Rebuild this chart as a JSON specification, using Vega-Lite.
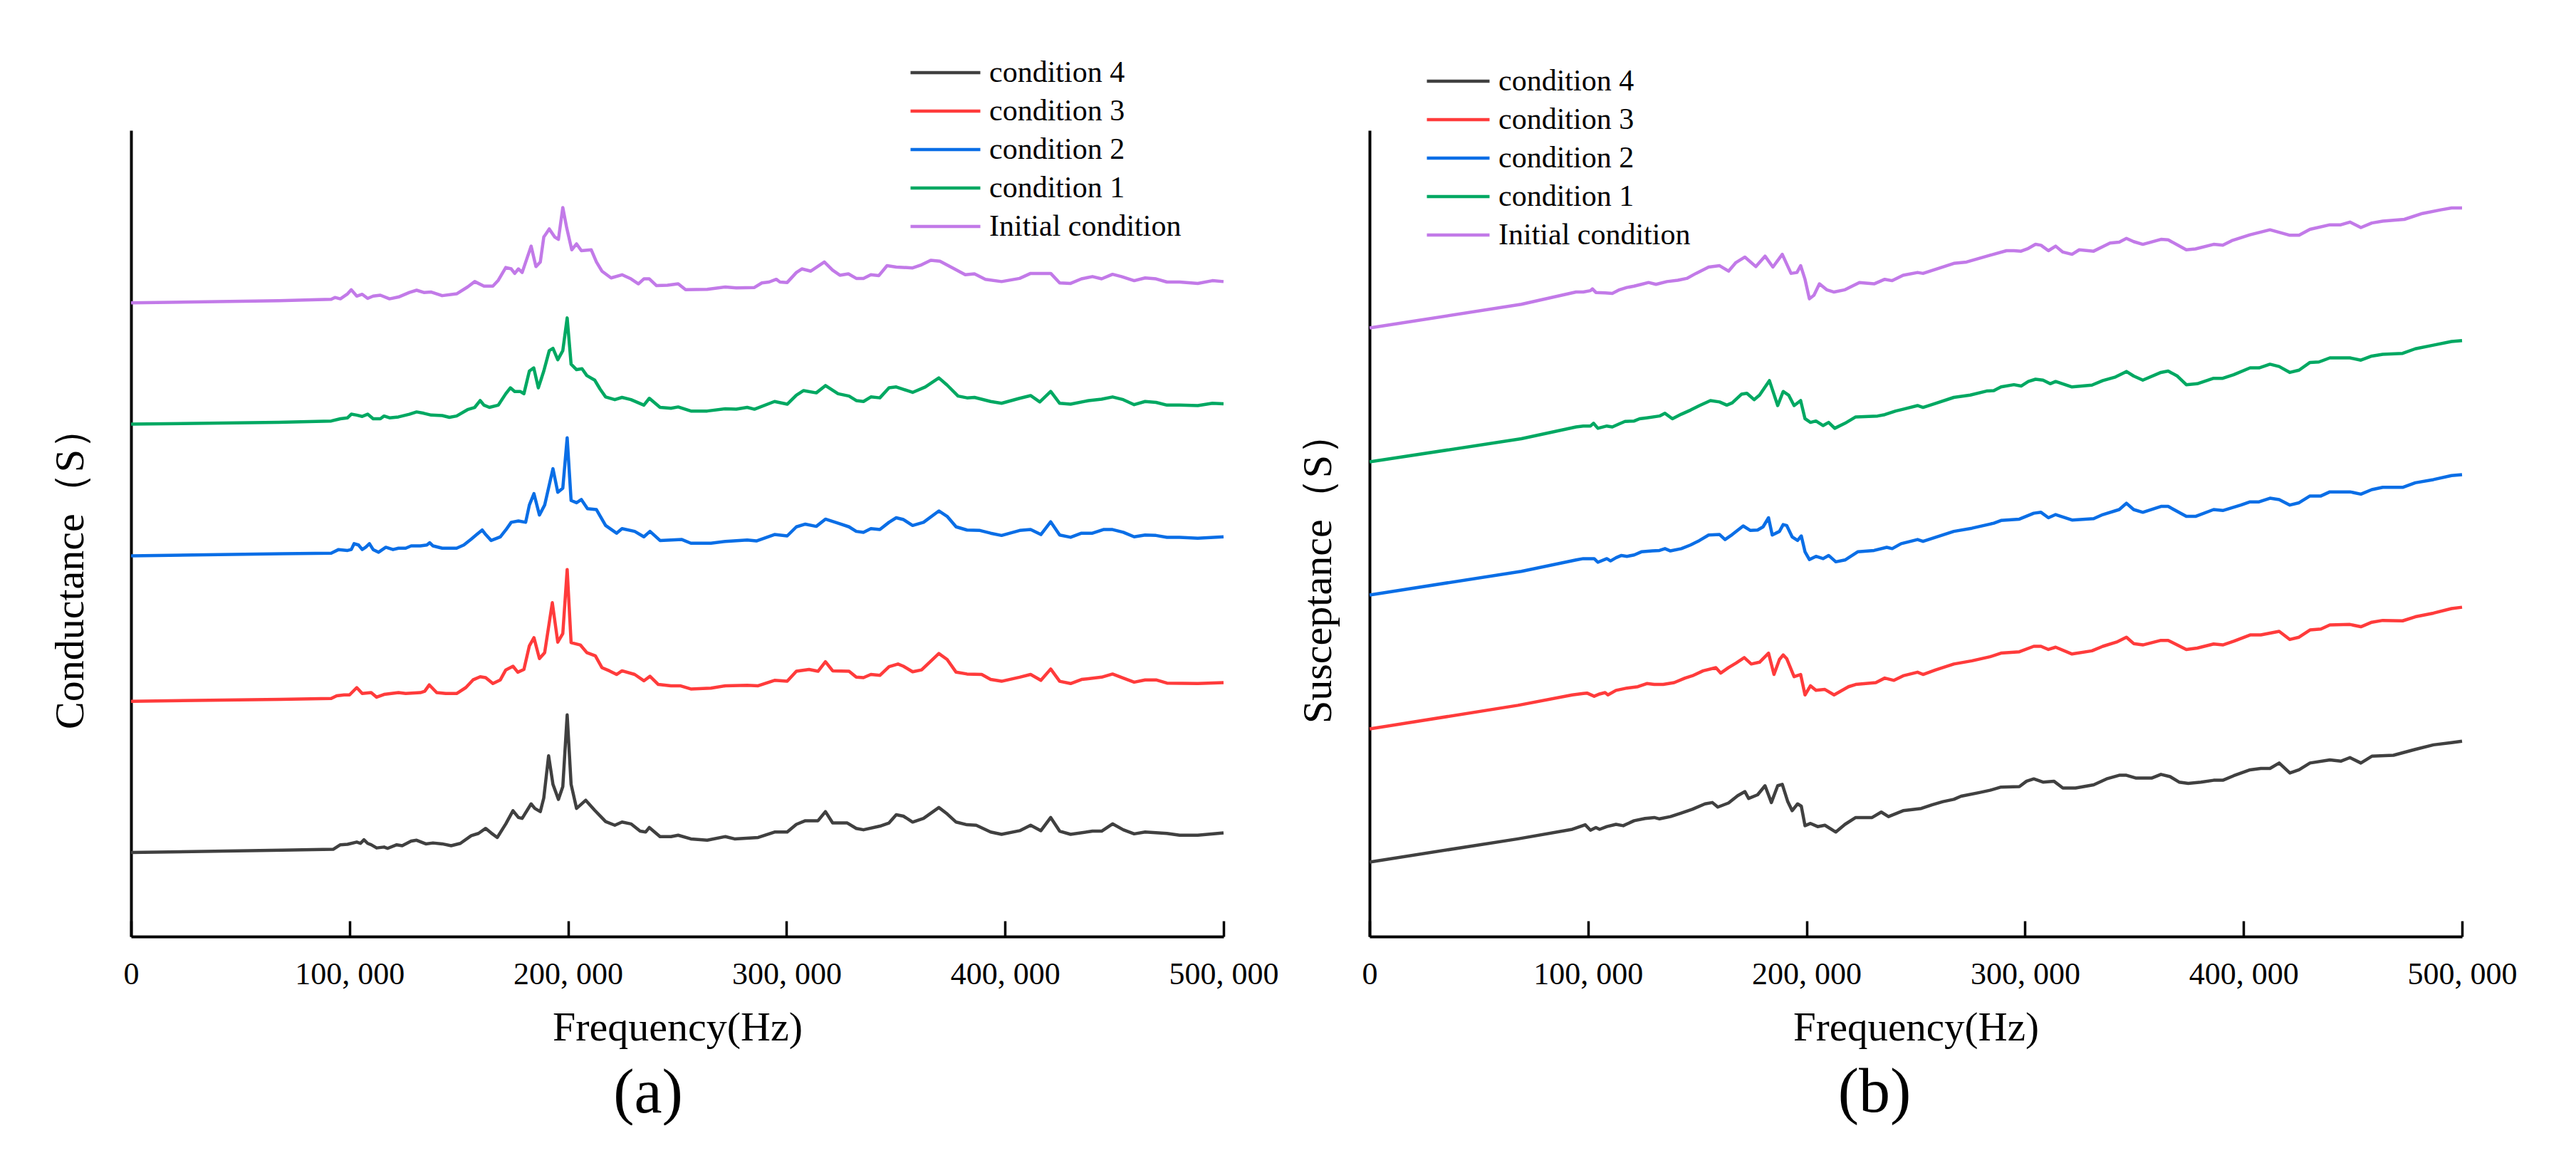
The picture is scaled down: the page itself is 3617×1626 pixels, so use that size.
{
  "$schema": "https://vega.github.io/schema/vega-lite/v6.json",
  "background": "white",
  "padding": {"left": 70, "top": 77, "right": 0, "bottom": 0},
  "datasets": {
    "G": [
      {"s":"Initial condition","f":0,"v":1395},{"s":"Initial condition","f":67500,"v":1400},{"s":"Initial condition","f":91600,"v":1403},{"s":"Initial condition","f":93300,"v":1407},{"s":"Initial condition","f":95800,"v":1404},{"s":"Initial condition","f":99100,"v":1415},{"s":"Initial condition","f":100800,"v":1424},{"s":"Initial condition","f":103300,"v":1410},{"s":"Initial condition","f":105800,"v":1414},{"s":"Initial condition","f":108300,"v":1405},{"s":"Initial condition","f":110800,"v":1410},{"s":"Initial condition","f":114100,"v":1412},{"s":"Initial condition","f":118300,"v":1404},{"s":"Initial condition","f":122400,"v":1408},{"s":"Initial condition","f":127400,"v":1418},{"s":"Initial condition","f":130700,"v":1423},{"s":"Initial condition","f":134000,"v":1418},{"s":"Initial condition","f":137400,"v":1419},{"s":"Initial condition","f":142400,"v":1411},{"s":"Initial condition","f":149000,"v":1415},{"s":"Initial condition","f":154000,"v":1430},{"s":"Initial condition","f":157300,"v":1442},{"s":"Initial condition","f":161500,"v":1432},{"s":"Initial condition","f":165600,"v":1432},{"s":"Initial condition","f":168100,"v":1445},{"s":"Initial condition","f":171500,"v":1473},{"s":"Initial condition","f":174000,"v":1470},{"s":"Initial condition","f":175600,"v":1460},{"s":"Initial condition","f":177300,"v":1470},{"s":"Initial condition","f":179000,"v":1462},{"s":"Initial condition","f":183100,"v":1520},{"s":"Initial condition","f":185300,"v":1475},{"s":"Initial condition","f":187300,"v":1485},{"s":"Initial condition","f":188900,"v":1540},{"s":"Initial condition","f":191400,"v":1558},{"s":"Initial condition","f":193900,"v":1540},{"s":"Initial condition","f":195600,"v":1535},{"s":"Initial condition","f":197600,"v":1605},{"s":"Initial condition","f":199400,"v":1560},{"s":"Initial condition","f":201700,"v":1512},{"s":"Initial condition","f":203900,"v":1525},{"s":"Initial condition","f":206100,"v":1510},{"s":"Initial condition","f":210600,"v":1512},{"s":"Initial condition","f":213000,"v":1485},{"s":"Initial condition","f":215500,"v":1465},{"s":"Initial condition","f":219700,"v":1450},{"s":"Initial condition","f":224700,"v":1457},{"s":"Initial condition","f":228800,"v":1448},{"s":"Initial condition","f":232200,"v":1437},{"s":"Initial condition","f":234700,"v":1448},{"s":"Initial condition","f":237200,"v":1448},{"s":"Initial condition","f":240500,"v":1433},{"s":"Initial condition","f":245500,"v":1434},{"s":"Initial condition","f":250400,"v":1437},{"s":"Initial condition","f":253800,"v":1424},{"s":"Initial condition","f":263700,"v":1425},{"s":"Initial condition","f":272000,"v":1430},{"s":"Initial condition","f":277000,"v":1428},{"s":"Initial condition","f":285300,"v":1429},{"s":"Initial condition","f":288700,"v":1439},{"s":"Initial condition","f":292000,"v":1441},{"s":"Initial condition","f":295300,"v":1447},{"s":"Initial condition","f":297000,"v":1441},{"s":"Initial condition","f":300300,"v":1440},{"s":"Initial condition","f":304500,"v":1462},{"s":"Initial condition","f":307000,"v":1470},{"s":"Initial condition","f":311100,"v":1465},{"s":"Initial condition","f":317300,"v":1485},{"s":"Initial condition","f":321100,"v":1467},{"s":"Initial condition","f":324400,"v":1456},{"s":"Initial condition","f":328300,"v":1459},{"s":"Initial condition","f":331900,"v":1449},{"s":"Initial condition","f":335200,"v":1449},{"s":"Initial condition","f":338600,"v":1457},{"s":"Initial condition","f":342200,"v":1455},{"s":"Initial condition","f":346000,"v":1477},{"s":"Initial condition","f":350200,"v":1474},{"s":"Initial condition","f":357700,"v":1472},{"s":"Initial condition","f":361800,"v":1479},{"s":"Initial condition","f":366000,"v":1489},{"s":"Initial condition","f":370200,"v":1487},{"s":"Initial condition","f":376800,"v":1470},{"s":"Initial condition","f":381800,"v":1457},{"s":"Initial condition","f":386000,"v":1459},{"s":"Initial condition","f":391000,"v":1447},{"s":"Initial condition","f":398400,"v":1442},{"s":"Initial condition","f":406700,"v":1449},{"s":"Initial condition","f":411700,"v":1460},{"s":"Initial condition","f":420900,"v":1460},{"s":"Initial condition","f":425000,"v":1439},{"s":"Initial condition","f":430000,"v":1438},{"s":"Initial condition","f":435000,"v":1448},{"s":"Initial condition","f":440000,"v":1453},{"s":"Initial condition","f":444200,"v":1448},{"s":"Initial condition","f":449200,"v":1458},{"s":"Initial condition","f":453300,"v":1453},{"s":"Initial condition","f":459100,"v":1444},{"s":"Initial condition","f":464100,"v":1450},{"s":"Initial condition","f":469100,"v":1448},{"s":"Initial condition","f":474100,"v":1441},{"s":"Initial condition","f":479900,"v":1441},{"s":"Initial condition","f":488200,"v":1438},{"s":"Initial condition","f":494900,"v":1444},{"s":"Initial condition","f":500000,"v":1442},
      {"s":"condition 1","f":0,"v":1128},{"s":"condition 1","f":67500,"v":1132},{"s":"condition 1","f":91600,"v":1135},{"s":"condition 1","f":95800,"v":1140},{"s":"condition 1","f":99100,"v":1142},{"s":"condition 1","f":100800,"v":1150},{"s":"condition 1","f":103300,"v":1148},{"s":"condition 1","f":105800,"v":1145},{"s":"condition 1","f":108300,"v":1150},{"s":"condition 1","f":110800,"v":1140},{"s":"condition 1","f":114100,"v":1140},{"s":"condition 1","f":115800,"v":1146},{"s":"condition 1","f":118300,"v":1142},{"s":"condition 1","f":122400,"v":1144},{"s":"condition 1","f":127400,"v":1150},{"s":"condition 1","f":130700,"v":1155},{"s":"condition 1","f":134000,"v":1152},{"s":"condition 1","f":137400,"v":1148},{"s":"condition 1","f":142400,"v":1147},{"s":"condition 1","f":145700,"v":1143},{"s":"condition 1","f":149000,"v":1146},{"s":"condition 1","f":154000,"v":1160},{"s":"condition 1","f":157300,"v":1165},{"s":"condition 1","f":159800,"v":1180},{"s":"condition 1","f":161500,"v":1170},{"s":"condition 1","f":164000,"v":1165},{"s":"condition 1","f":168100,"v":1170},{"s":"condition 1","f":171500,"v":1195},{"s":"condition 1","f":173600,"v":1208},{"s":"condition 1","f":175600,"v":1200},{"s":"condition 1","f":178100,"v":1200},{"s":"condition 1","f":179800,"v":1195},{"s":"condition 1","f":182300,"v":1245},{"s":"condition 1","f":184300,"v":1252},{"s":"condition 1","f":186400,"v":1208},{"s":"condition 1","f":188900,"v":1245},{"s":"condition 1","f":191400,"v":1290},{"s":"condition 1","f":193100,"v":1295},{"s":"condition 1","f":195300,"v":1270},{"s":"condition 1","f":197600,"v":1290},{"s":"condition 1","f":199600,"v":1362},{"s":"condition 1","f":201400,"v":1260},{"s":"condition 1","f":203900,"v":1248},{"s":"condition 1","f":206400,"v":1250},{"s":"condition 1","f":208600,"v":1235},{"s":"condition 1","f":212200,"v":1225},{"s":"condition 1","f":214700,"v":1205},{"s":"condition 1","f":217200,"v":1188},{"s":"condition 1","f":221400,"v":1182},{"s":"condition 1","f":224700,"v":1187},{"s":"condition 1","f":228800,"v":1182},{"s":"condition 1","f":234700,"v":1170},{"s":"condition 1","f":237200,"v":1185},{"s":"condition 1","f":242100,"v":1165},{"s":"condition 1","f":247100,"v":1163},{"s":"condition 1","f":250400,"v":1166},{"s":"condition 1","f":256200,"v":1157},{"s":"condition 1","f":263700,"v":1157},{"s":"condition 1","f":272000,"v":1162},{"s":"condition 1","f":277000,"v":1161},{"s":"condition 1","f":282000,"v":1165},{"s":"condition 1","f":285300,"v":1161},{"s":"condition 1","f":294500,"v":1178},{"s":"condition 1","f":300300,"v":1172},{"s":"condition 1","f":304500,"v":1192},{"s":"condition 1","f":307800,"v":1202},{"s":"condition 1","f":313600,"v":1197},{"s":"condition 1","f":317800,"v":1213},{"s":"condition 1","f":323600,"v":1195},{"s":"condition 1","f":328600,"v":1190},{"s":"condition 1","f":331900,"v":1180},{"s":"condition 1","f":335200,"v":1178},{"s":"condition 1","f":338600,"v":1188},{"s":"condition 1","f":342700,"v":1186},{"s":"condition 1","f":346900,"v":1208},{"s":"condition 1","f":350200,"v":1210},{"s":"condition 1","f":357700,"v":1198},{"s":"condition 1","f":363500,"v":1210},{"s":"condition 1","f":369700,"v":1230},{"s":"condition 1","f":373500,"v":1214},{"s":"condition 1","f":378500,"v":1190},{"s":"condition 1","f":382600,"v":1186},{"s":"condition 1","f":386000,"v":1187},{"s":"condition 1","f":393400,"v":1178},{"s":"condition 1","f":398400,"v":1174},{"s":"condition 1","f":406700,"v":1185},{"s":"condition 1","f":411700,"v":1191},{"s":"condition 1","f":415900,"v":1177},{"s":"condition 1","f":420900,"v":1200},{"s":"condition 1","f":425000,"v":1174},{"s":"condition 1","f":430000,"v":1172},{"s":"condition 1","f":438300,"v":1180},{"s":"condition 1","f":444200,"v":1183},{"s":"condition 1","f":449200,"v":1188},{"s":"condition 1","f":454100,"v":1182},{"s":"condition 1","f":459100,"v":1171},{"s":"condition 1","f":464100,"v":1178},{"s":"condition 1","f":469100,"v":1176},{"s":"condition 1","f":474100,"v":1170},{"s":"condition 1","f":479900,"v":1170},{"s":"condition 1","f":488200,"v":1169},{"s":"condition 1","f":494900,"v":1174},{"s":"condition 1","f":500000,"v":1173},
      {"s":"condition 2","f":0,"v":838},{"s":"condition 2","f":69200,"v":843},{"s":"condition 2","f":91600,"v":844},{"s":"condition 2","f":95000,"v":852},{"s":"condition 2","f":99100,"v":850},{"s":"condition 2","f":100800,"v":852},{"s":"condition 2","f":102100,"v":865},{"s":"condition 2","f":104100,"v":862},{"s":"condition 2","f":105800,"v":852},{"s":"condition 2","f":107400,"v":857},{"s":"condition 2","f":109100,"v":865},{"s":"condition 2","f":110800,"v":852},{"s":"condition 2","f":113300,"v":846},{"s":"condition 2","f":116600,"v":857},{"s":"condition 2","f":119900,"v":852},{"s":"condition 2","f":122400,"v":855},{"s":"condition 2","f":125700,"v":855},{"s":"condition 2","f":128200,"v":860},{"s":"condition 2","f":132400,"v":860},{"s":"condition 2","f":135400,"v":862},{"s":"condition 2","f":136700,"v":867},{"s":"condition 2","f":138200,"v":860},{"s":"condition 2","f":142400,"v":855},{"s":"condition 2","f":149000,"v":855},{"s":"condition 2","f":152300,"v":862},{"s":"condition 2","f":155700,"v":875},{"s":"condition 2","f":158200,"v":885},{"s":"condition 2","f":160700,"v":895},{"s":"condition 2","f":162300,"v":885},{"s":"condition 2","f":164800,"v":872},{"s":"condition 2","f":169000,"v":880},{"s":"condition 2","f":171500,"v":895},{"s":"condition 2","f":174000,"v":912},{"s":"condition 2","f":177300,"v":915},{"s":"condition 2","f":180600,"v":912},{"s":"condition 2","f":182300,"v":950},{"s":"condition 2","f":184400,"v":975},{"s":"condition 2","f":186900,"v":928},{"s":"condition 2","f":189300,"v":950},{"s":"condition 2","f":193100,"v":1030},{"s":"condition 2","f":195300,"v":978},{"s":"condition 2","f":197600,"v":987},{"s":"condition 2","f":199600,"v":1098},{"s":"condition 2","f":201400,"v":960},{"s":"condition 2","f":203900,"v":955},{"s":"condition 2","f":206100,"v":962},{"s":"condition 2","f":208900,"v":942},{"s":"condition 2","f":213000,"v":940},{"s":"condition 2","f":217200,"v":905},{"s":"condition 2","f":222200,"v":888},{"s":"condition 2","f":224700,"v":898},{"s":"condition 2","f":230500,"v":892},{"s":"condition 2","f":234700,"v":880},{"s":"condition 2","f":237500,"v":892},{"s":"condition 2","f":242100,"v":872},{"s":"condition 2","f":247100,"v":873},{"s":"condition 2","f":252100,"v":874},{"s":"condition 2","f":256200,"v":866},{"s":"condition 2","f":265400,"v":866},{"s":"condition 2","f":272000,"v":870},{"s":"condition 2","f":282000,"v":873},{"s":"condition 2","f":286200,"v":871},{"s":"condition 2","f":294500,"v":885},{"s":"condition 2","f":300300,"v":882},{"s":"condition 2","f":304500,"v":902},{"s":"condition 2","f":308600,"v":908},{"s":"condition 2","f":313600,"v":903},{"s":"condition 2","f":317800,"v":919},{"s":"condition 2","f":323600,"v":910},{"s":"condition 2","f":328600,"v":902},{"s":"condition 2","f":331900,"v":892},{"s":"condition 2","f":335200,"v":890},{"s":"condition 2","f":338600,"v":898},{"s":"condition 2","f":342700,"v":896},{"s":"condition 2","f":346900,"v":912},{"s":"condition 2","f":350200,"v":922},{"s":"condition 2","f":353500,"v":918},{"s":"condition 2","f":357700,"v":905},{"s":"condition 2","f":362700,"v":912},{"s":"condition 2","f":369700,"v":937},{"s":"condition 2","f":373500,"v":925},{"s":"condition 2","f":377600,"v":902},{"s":"condition 2","f":382600,"v":895},{"s":"condition 2","f":388500,"v":894},{"s":"condition 2","f":393400,"v":888},{"s":"condition 2","f":398400,"v":883},{"s":"condition 2","f":406700,"v":894},{"s":"condition 2","f":411700,"v":896},{"s":"condition 2","f":416400,"v":885},{"s":"condition 2","f":420900,"v":913},{"s":"condition 2","f":425000,"v":884},{"s":"condition 2","f":430000,"v":879},{"s":"condition 2","f":435000,"v":888},{"s":"condition 2","f":440000,"v":888},{"s":"condition 2","f":445000,"v":896},{"s":"condition 2","f":449200,"v":896},{"s":"condition 2","f":454100,"v":890},{"s":"condition 2","f":459100,"v":880},{"s":"condition 2","f":464100,"v":884},{"s":"condition 2","f":469100,"v":883},{"s":"condition 2","f":474100,"v":879},{"s":"condition 2","f":479900,"v":879},{"s":"condition 2","f":488200,"v":877},{"s":"condition 2","f":500000,"v":880},
      {"s":"condition 3","f":0,"v":518},{"s":"condition 3","f":68400,"v":522},{"s":"condition 3","f":91600,"v":524},{"s":"condition 3","f":94100,"v":530},{"s":"condition 3","f":97500,"v":532},{"s":"condition 3","f":100000,"v":532},{"s":"condition 3","f":103300,"v":548},{"s":"condition 3","f":105800,"v":535},{"s":"condition 3","f":109900,"v":537},{"s":"condition 3","f":112400,"v":527},{"s":"condition 3","f":115800,"v":533},{"s":"condition 3","f":122400,"v":537},{"s":"condition 3","f":125700,"v":535},{"s":"condition 3","f":132400,"v":537},{"s":"condition 3","f":134400,"v":540},{"s":"condition 3","f":136500,"v":554},{"s":"condition 3","f":139900,"v":537},{"s":"condition 3","f":144000,"v":535},{"s":"condition 3","f":149000,"v":535},{"s":"condition 3","f":153200,"v":548},{"s":"condition 3","f":156500,"v":565},{"s":"condition 3","f":159800,"v":572},{"s":"condition 3","f":162300,"v":570},{"s":"condition 3","f":165600,"v":557},{"s":"condition 3","f":169000,"v":565},{"s":"condition 3","f":171500,"v":587},{"s":"condition 3","f":174800,"v":595},{"s":"condition 3","f":177000,"v":582},{"s":"condition 3","f":179800,"v":588},{"s":"condition 3","f":182300,"v":640},{"s":"condition 3","f":184400,"v":658},{"s":"condition 3","f":186900,"v":612},{"s":"condition 3","f":189300,"v":625},{"s":"condition 3","f":192800,"v":735},{"s":"condition 3","f":195300,"v":648},{"s":"condition 3","f":197600,"v":667},{"s":"condition 3","f":199600,"v":808},{"s":"condition 3","f":201400,"v":647},{"s":"condition 3","f":205600,"v":642},{"s":"condition 3","f":208600,"v":625},{"s":"condition 3","f":212500,"v":618},{"s":"condition 3","f":215500,"v":592},{"s":"condition 3","f":218900,"v":585},{"s":"condition 3","f":222200,"v":577},{"s":"condition 3","f":224700,"v":585},{"s":"condition 3","f":230500,"v":577},{"s":"condition 3","f":234700,"v":563},{"s":"condition 3","f":237500,"v":573},{"s":"condition 3","f":241300,"v":555},{"s":"condition 3","f":247100,"v":552},{"s":"condition 3","f":251300,"v":552},{"s":"condition 3","f":256200,"v":545},{"s":"condition 3","f":265400,"v":547},{"s":"condition 3","f":272000,"v":552},{"s":"condition 3","f":282000,"v":553},{"s":"condition 3","f":287000,"v":552},{"s":"condition 3","f":294500,"v":564},{"s":"condition 3","f":300300,"v":562},{"s":"condition 3","f":304500,"v":584},{"s":"condition 3","f":310300,"v":588},{"s":"condition 3","f":314400,"v":584},{"s":"condition 3","f":317800,"v":605},{"s":"condition 3","f":321100,"v":585},{"s":"condition 3","f":328600,"v":584},{"s":"condition 3","f":331900,"v":571},{"s":"condition 3","f":335200,"v":570},{"s":"condition 3","f":338600,"v":577},{"s":"condition 3","f":342700,"v":575},{"s":"condition 3","f":346900,"v":594},{"s":"condition 3","f":351000,"v":600},{"s":"condition 3","f":353500,"v":595},{"s":"condition 3","f":357700,"v":583},{"s":"condition 3","f":361800,"v":587},{"s":"condition 3","f":369700,"v":623},{"s":"condition 3","f":373500,"v":610},{"s":"condition 3","f":377600,"v":582},{"s":"condition 3","f":382600,"v":578},{"s":"condition 3","f":389300,"v":577},{"s":"condition 3","f":393400,"v":566},{"s":"condition 3","f":398400,"v":562},{"s":"condition 3","f":406700,"v":571},{"s":"condition 3","f":411700,"v":577},{"s":"condition 3","f":416400,"v":564},{"s":"condition 3","f":420900,"v":589},{"s":"condition 3","f":425000,"v":562},{"s":"condition 3","f":430000,"v":557},{"s":"condition 3","f":435000,"v":566},{"s":"condition 3","f":444200,"v":571},{"s":"condition 3","f":449200,"v":578},{"s":"condition 3","f":454100,"v":569},{"s":"condition 3","f":459100,"v":560},{"s":"condition 3","f":464100,"v":565},{"s":"condition 3","f":469100,"v":565},{"s":"condition 3","f":474100,"v":558},{"s":"condition 3","f":488200,"v":557},{"s":"condition 3","f":500000,"v":559},
      {"s":"condition 4","f":0,"v":185},{"s":"condition 4","f":69200,"v":190},{"s":"condition 4","f":92500,"v":192},{"s":"condition 4","f":95800,"v":202},{"s":"condition 4","f":99100,"v":203},{"s":"condition 4","f":103300,"v":208},{"s":"condition 4","f":105000,"v":205},{"s":"condition 4","f":106600,"v":213},{"s":"condition 4","f":108300,"v":205},{"s":"condition 4","f":109900,"v":202},{"s":"condition 4","f":112400,"v":195},{"s":"condition 4","f":115800,"v":197},{"s":"condition 4","f":117400,"v":194},{"s":"condition 4","f":121600,"v":202},{"s":"condition 4","f":124100,"v":200},{"s":"condition 4","f":128200,"v":210},{"s":"condition 4","f":130700,"v":212},{"s":"condition 4","f":134900,"v":204},{"s":"condition 4","f":138200,"v":206},{"s":"condition 4","f":142400,"v":204},{"s":"condition 4","f":146500,"v":200},{"s":"condition 4","f":150700,"v":205},{"s":"condition 4","f":155700,"v":222},{"s":"condition 4","f":159000,"v":227},{"s":"condition 4","f":162300,"v":238},{"s":"condition 4","f":164800,"v":228},{"s":"condition 4","f":167600,"v":218},{"s":"condition 4","f":171500,"v":248},{"s":"condition 4","f":174800,"v":277},{"s":"condition 4","f":177300,"v":262},{"s":"condition 4","f":179000,"v":260},{"s":"condition 4","f":183100,"v":292},{"s":"condition 4","f":184800,"v":282},{"s":"condition 4","f":187300,"v":275},{"s":"condition 4","f":188900,"v":305},{"s":"condition 4","f":191100,"v":398},{"s":"condition 4","f":193100,"v":335},{"s":"condition 4","f":195600,"v":302},{"s":"condition 4","f":197600,"v":330},{"s":"condition 4","f":199600,"v":488},{"s":"condition 4","f":201400,"v":335},{"s":"condition 4","f":203900,"v":282},{"s":"condition 4","f":208100,"v":300},{"s":"condition 4","f":212200,"v":278},{"s":"condition 4","f":217200,"v":253},{"s":"condition 4","f":221400,"v":245},{"s":"condition 4","f":224700,"v":252},{"s":"condition 4","f":228800,"v":248},{"s":"condition 4","f":233000,"v":232},{"s":"condition 4","f":235500,"v":230},{"s":"condition 4","f":237200,"v":240},{"s":"condition 4","f":242100,"v":220},{"s":"condition 4","f":247100,"v":220},{"s":"condition 4","f":250400,"v":223},{"s":"condition 4","f":256200,"v":215},{"s":"condition 4","f":263700,"v":212},{"s":"condition 4","f":272000,"v":220},{"s":"condition 4","f":276200,"v":215},{"s":"condition 4","f":287000,"v":218},{"s":"condition 4","f":294500,"v":230},{"s":"condition 4","f":300300,"v":230},{"s":"condition 4","f":304500,"v":247},{"s":"condition 4","f":308600,"v":255},{"s":"condition 4","f":314400,"v":255},{"s":"condition 4","f":317800,"v":275},{"s":"condition 4","f":321100,"v":250},{"s":"condition 4","f":327800,"v":250},{"s":"condition 4","f":331900,"v":238},{"s":"condition 4","f":335200,"v":235},{"s":"condition 4","f":342700,"v":243},{"s":"condition 4","f":346900,"v":250},{"s":"condition 4","f":350200,"v":268},{"s":"condition 4","f":353500,"v":265},{"s":"condition 4","f":357700,"v":252},{"s":"condition 4","f":362700,"v":260},{"s":"condition 4","f":369700,"v":284},{"s":"condition 4","f":373500,"v":270},{"s":"condition 4","f":377600,"v":252},{"s":"condition 4","f":382600,"v":246},{"s":"condition 4","f":386800,"v":245},{"s":"condition 4","f":393400,"v":230},{"s":"condition 4","f":398400,"v":225},{"s":"condition 4","f":406700,"v":233},{"s":"condition 4","f":411700,"v":245},{"s":"condition 4","f":416400,"v":233},{"s":"condition 4","f":420900,"v":262},{"s":"condition 4","f":425000,"v":232},{"s":"condition 4","f":430000,"v":225},{"s":"condition 4","f":440000,"v":232},{"s":"condition 4","f":444200,"v":232},{"s":"condition 4","f":449200,"v":248},{"s":"condition 4","f":454100,"v":235},{"s":"condition 4","f":459100,"v":226},{"s":"condition 4","f":464100,"v":230},{"s":"condition 4","f":474100,"v":227},{"s":"condition 4","f":479900,"v":223},{"s":"condition 4","f":488200,"v":223},{"s":"condition 4","f":500000,"v":228}
    ],
    "B": [
      {"s":"Initial condition","f":0,"v":1340},{"s":"Initial condition","f":69500,"v":1392},{"s":"Initial condition","f":94500,"v":1419},{"s":"Initial condition","f":97800,"v":1419},{"s":"Initial condition","f":101100,"v":1422},{"s":"Initial condition","f":102000,"v":1426},{"s":"Initial condition","f":103600,"v":1418},{"s":"Initial condition","f":107800,"v":1417},{"s":"Initial condition","f":111100,"v":1416},{"s":"Initial condition","f":114400,"v":1424},{"s":"Initial condition","f":117800,"v":1429},{"s":"Initial condition","f":121100,"v":1432},{"s":"Initial condition","f":124400,"v":1436},{"s":"Initial condition","f":127700,"v":1440},{"s":"Initial condition","f":131100,"v":1436},{"s":"Initial condition","f":136100,"v":1442},{"s":"Initial condition","f":141100,"v":1445},{"s":"Initial condition","f":145200,"v":1449},{"s":"Initial condition","f":149400,"v":1460},{"s":"Initial condition","f":155200,"v":1474},{"s":"Initial condition","f":160200,"v":1477},{"s":"Initial condition","f":164300,"v":1465},{"s":"Initial condition","f":167700,"v":1484},{"s":"Initial condition","f":171800,"v":1496},{"s":"Initial condition","f":176800,"v":1475},{"s":"Initial condition","f":181000,"v":1498},{"s":"Initial condition","f":184600,"v":1474},{"s":"Initial condition","f":188900,"v":1502},{"s":"Initial condition","f":192900,"v":1460},{"s":"Initial condition","f":195600,"v":1462},{"s":"Initial condition","f":197300,"v":1477},{"s":"Initial condition","f":199300,"v":1447},{"s":"Initial condition","f":201300,"v":1404},{"s":"Initial condition","f":203400,"v":1412},{"s":"Initial condition","f":205900,"v":1437},{"s":"Initial condition","f":209200,"v":1424},{"s":"Initial condition","f":212600,"v":1419},{"s":"Initial condition","f":217600,"v":1424},{"s":"Initial condition","f":224200,"v":1440},{"s":"Initial condition","f":230900,"v":1437},{"s":"Initial condition","f":235800,"v":1447},{"s":"Initial condition","f":239200,"v":1444},{"s":"Initial condition","f":244200,"v":1456},{"s":"Initial condition","f":250800,"v":1462},{"s":"Initial condition","f":253300,"v":1460},{"s":"Initial condition","f":259100,"v":1469},{"s":"Initial condition","f":267400,"v":1482},{"s":"Initial condition","f":273200,"v":1485},{"s":"Initial condition","f":284000,"v":1500},{"s":"Initial condition","f":291500,"v":1510},{"s":"Initial condition","f":294900,"v":1510},{"s":"Initial condition","f":298200,"v":1509},{"s":"Initial condition","f":301500,"v":1515},{"s":"Initial condition","f":304800,"v":1524},{"s":"Initial condition","f":307300,"v":1522},{"s":"Initial condition","f":310700,"v":1510},{"s":"Initial condition","f":314000,"v":1520},{"s":"Initial condition","f":317300,"v":1507},{"s":"Initial condition","f":321500,"v":1502},{"s":"Initial condition","f":324800,"v":1512},{"s":"Initial condition","f":331400,"v":1509},{"s":"Initial condition","f":335600,"v":1519},{"s":"Initial condition","f":338900,"v":1527},{"s":"Initial condition","f":343100,"v":1529},{"s":"Initial condition","f":346400,"v":1537},{"s":"Initial condition","f":349700,"v":1530},{"s":"Initial condition","f":353900,"v":1524},{"s":"Initial condition","f":362200,"v":1535},{"s":"Initial condition","f":365500,"v":1534},{"s":"Initial condition","f":373800,"v":1512},{"s":"Initial condition","f":378000,"v":1514},{"s":"Initial condition","f":386300,"v":1524},{"s":"Initial condition","f":390500,"v":1522},{"s":"Initial condition","f":394600,"v":1532},{"s":"Initial condition","f":403000,"v":1545},{"s":"Initial condition","f":412100,"v":1556},{"s":"Initial condition","f":421200,"v":1544},{"s":"Initial condition","f":425400,"v":1544},{"s":"Initial condition","f":430400,"v":1557},{"s":"Initial condition","f":439500,"v":1567},{"s":"Initial condition","f":444500,"v":1567},{"s":"Initial condition","f":448700,"v":1573},{"s":"Initial condition","f":453700,"v":1561},{"s":"Initial condition","f":458700,"v":1571},{"s":"Initial condition","f":463700,"v":1575},{"s":"Initial condition","f":473600,"v":1579},{"s":"Initial condition","f":481900,"v":1592},{"s":"Initial condition","f":490300,"v":1600},{"s":"Initial condition","f":495200,"v":1604},{"s":"Initial condition","f":500000,"v":1604},
      {"s":"condition 1","f":0,"v":1045},{"s":"condition 1","f":69500,"v":1096},{"s":"condition 1","f":94500,"v":1122},{"s":"condition 1","f":97800,"v":1124},{"s":"condition 1","f":101100,"v":1124},{"s":"condition 1","f":102500,"v":1130},{"s":"condition 1","f":104500,"v":1119},{"s":"condition 1","f":108600,"v":1124},{"s":"condition 1","f":111100,"v":1122},{"s":"condition 1","f":114400,"v":1129},{"s":"condition 1","f":116900,"v":1134},{"s":"condition 1","f":121100,"v":1135},{"s":"condition 1","f":123600,"v":1140},{"s":"condition 1","f":126900,"v":1142},{"s":"condition 1","f":132700,"v":1146},{"s":"condition 1","f":135200,"v":1152},{"s":"condition 1","f":138600,"v":1140},{"s":"condition 1","f":142700,"v":1150},{"s":"condition 1","f":146900,"v":1159},{"s":"condition 1","f":151000,"v":1169},{"s":"condition 1","f":156000,"v":1180},{"s":"condition 1","f":160200,"v":1177},{"s":"condition 1","f":163500,"v":1170},{"s":"condition 1","f":166000,"v":1175},{"s":"condition 1","f":170200,"v":1194},{"s":"condition 1","f":172700,"v":1196},{"s":"condition 1","f":176000,"v":1182},{"s":"condition 1","f":178500,"v":1192},{"s":"condition 1","f":183000,"v":1224},{"s":"condition 1","f":186800,"v":1169},{"s":"condition 1","f":189300,"v":1200},{"s":"condition 1","f":191800,"v":1192},{"s":"condition 1","f":194300,"v":1169},{"s":"condition 1","f":197300,"v":1180},{"s":"condition 1","f":199300,"v":1140},{"s":"condition 1","f":201800,"v":1132},{"s":"condition 1","f":204300,"v":1135},{"s":"condition 1","f":207600,"v":1125},{"s":"condition 1","f":210100,"v":1132},{"s":"condition 1","f":212900,"v":1119},{"s":"condition 1","f":217600,"v":1130},{"s":"condition 1","f":222500,"v":1144},{"s":"condition 1","f":232500,"v":1146},{"s":"condition 1","f":235800,"v":1149},{"s":"condition 1","f":240800,"v":1157},{"s":"condition 1","f":244200,"v":1161},{"s":"condition 1","f":250800,"v":1169},{"s":"condition 1","f":253300,"v":1165},{"s":"condition 1","f":259100,"v":1174},{"s":"condition 1","f":267400,"v":1187},{"s":"condition 1","f":274900,"v":1192},{"s":"condition 1","f":282400,"v":1201},{"s":"condition 1","f":285700,"v":1202},{"s":"condition 1","f":289000,"v":1210},{"s":"condition 1","f":294900,"v":1215},{"s":"condition 1","f":298200,"v":1212},{"s":"condition 1","f":301500,"v":1222},{"s":"condition 1","f":304800,"v":1227},{"s":"condition 1","f":308200,"v":1225},{"s":"condition 1","f":311500,"v":1217},{"s":"condition 1","f":314000,"v":1222},{"s":"condition 1","f":321500,"v":1210},{"s":"condition 1","f":330600,"v":1214},{"s":"condition 1","f":335600,"v":1224},{"s":"condition 1","f":341400,"v":1232},{"s":"condition 1","f":346400,"v":1244},{"s":"condition 1","f":349700,"v":1234},{"s":"condition 1","f":353900,"v":1225},{"s":"condition 1","f":362200,"v":1242},{"s":"condition 1","f":365500,"v":1245},{"s":"condition 1","f":369700,"v":1234},{"s":"condition 1","f":373800,"v":1215},{"s":"condition 1","f":378800,"v":1217},{"s":"condition 1","f":386300,"v":1229},{"s":"condition 1","f":390500,"v":1229},{"s":"condition 1","f":395500,"v":1237},{"s":"condition 1","f":403000,"v":1252},{"s":"condition 1","f":407100,"v":1252},{"s":"condition 1","f":412100,"v":1260},{"s":"condition 1","f":416300,"v":1255},{"s":"condition 1","f":421200,"v":1242},{"s":"condition 1","f":425400,"v":1247},{"s":"condition 1","f":430400,"v":1264},{"s":"condition 1","f":434500,"v":1265},{"s":"condition 1","f":439500,"v":1274},{"s":"condition 1","f":448700,"v":1274},{"s":"condition 1","f":453700,"v":1269},{"s":"condition 1","f":458700,"v":1278},{"s":"condition 1","f":463700,"v":1282},{"s":"condition 1","f":472800,"v":1284},{"s":"condition 1","f":478600,"v":1294},{"s":"condition 1","f":486900,"v":1302},{"s":"condition 1","f":495200,"v":1310},{"s":"condition 1","f":500000,"v":1312},
      {"s":"condition 2","f":0,"v":752},{"s":"condition 2","f":69500,"v":804},{"s":"condition 2","f":94500,"v":829},{"s":"condition 2","f":97800,"v":832},{"s":"condition 2","f":102800,"v":832},{"s":"condition 2","f":104500,"v":824},{"s":"condition 2","f":108600,"v":832},{"s":"condition 2","f":110300,"v":827},{"s":"condition 2","f":112800,"v":834},{"s":"condition 2","f":115300,"v":839},{"s":"condition 2","f":117800,"v":837},{"s":"condition 2","f":121100,"v":840},{"s":"condition 2","f":124400,"v":847},{"s":"condition 2","f":129400,"v":849},{"s":"condition 2","f":132700,"v":850},{"s":"condition 2","f":135200,"v":854},{"s":"condition 2","f":137700,"v":849},{"s":"condition 2","f":142700,"v":854},{"s":"condition 2","f":146900,"v":862},{"s":"condition 2","f":151000,"v":872},{"s":"condition 2","f":155200,"v":884},{"s":"condition 2","f":160200,"v":885},{"s":"condition 2","f":162700,"v":874},{"s":"condition 2","f":166000,"v":885},{"s":"condition 2","f":171000,"v":904},{"s":"condition 2","f":174300,"v":894},{"s":"condition 2","f":177600,"v":895},{"s":"condition 2","f":180100,"v":902},{"s":"condition 2","f":182600,"v":922},{"s":"condition 2","f":184300,"v":884},{"s":"condition 2","f":187600,"v":892},{"s":"condition 2","f":189300,"v":907},{"s":"condition 2","f":190900,"v":905},{"s":"condition 2","f":193400,"v":880},{"s":"condition 2","f":195900,"v":872},{"s":"condition 2","f":197600,"v":882},{"s":"condition 2","f":199300,"v":847},{"s":"condition 2","f":201300,"v":830},{"s":"condition 2","f":204300,"v":837},{"s":"condition 2","f":207600,"v":832},{"s":"condition 2","f":210100,"v":839},{"s":"condition 2","f":213400,"v":825},{"s":"condition 2","f":217600,"v":829},{"s":"condition 2","f":223400,"v":847},{"s":"condition 2","f":230900,"v":850},{"s":"condition 2","f":236700,"v":857},{"s":"condition 2","f":239200,"v":854},{"s":"condition 2","f":243300,"v":865},{"s":"condition 2","f":250800,"v":874},{"s":"condition 2","f":253300,"v":870},{"s":"condition 2","f":259100,"v":879},{"s":"condition 2","f":267400,"v":892},{"s":"condition 2","f":275700,"v":899},{"s":"condition 2","f":285700,"v":910},{"s":"condition 2","f":289000,"v":916},{"s":"condition 2","f":297400,"v":919},{"s":"condition 2","f":304000,"v":932},{"s":"condition 2","f":307300,"v":934},{"s":"condition 2","f":310700,"v":922},{"s":"condition 2","f":314000,"v":929},{"s":"condition 2","f":321500,"v":917},{"s":"condition 2","f":331400,"v":920},{"s":"condition 2","f":335600,"v":929},{"s":"condition 2","f":343100,"v":940},{"s":"condition 2","f":346400,"v":954},{"s":"condition 2","f":349700,"v":940},{"s":"condition 2","f":353900,"v":934},{"s":"condition 2","f":362200,"v":947},{"s":"condition 2","f":365500,"v":947},{"s":"condition 2","f":373800,"v":925},{"s":"condition 2","f":378000,"v":925},{"s":"condition 2","f":386300,"v":940},{"s":"condition 2","f":390500,"v":938},{"s":"condition 2","f":398800,"v":950},{"s":"condition 2","f":403000,"v":957},{"s":"condition 2","f":407100,"v":957},{"s":"condition 2","f":412100,"v":965},{"s":"condition 2","f":416300,"v":962},{"s":"condition 2","f":421200,"v":950},{"s":"condition 2","f":425400,"v":955},{"s":"condition 2","f":430400,"v":970},{"s":"condition 2","f":435400,"v":970},{"s":"condition 2","f":439500,"v":979},{"s":"condition 2","f":448700,"v":979},{"s":"condition 2","f":453700,"v":974},{"s":"condition 2","f":458700,"v":984},{"s":"condition 2","f":463700,"v":989},{"s":"condition 2","f":472800,"v":989},{"s":"condition 2","f":478600,"v":999},{"s":"condition 2","f":486900,"v":1006},{"s":"condition 2","f":495200,"v":1015},{"s":"condition 2","f":500000,"v":1017},
      {"s":"condition 3","f":0,"v":457},{"s":"condition 3","f":67900,"v":509},{"s":"condition 3","f":92800,"v":532},{"s":"condition 3","f":97800,"v":535},{"s":"condition 3","f":99500,"v":536},{"s":"condition 3","f":102800,"v":529},{"s":"condition 3","f":105300,"v":534},{"s":"condition 3","f":107800,"v":537},{"s":"condition 3","f":109100,"v":532},{"s":"condition 3","f":112800,"v":542},{"s":"condition 3","f":117800,"v":547},{"s":"condition 3","f":122800,"v":550},{"s":"condition 3","f":126900,"v":557},{"s":"condition 3","f":130300,"v":555},{"s":"condition 3","f":134400,"v":555},{"s":"condition 3","f":139400,"v":559},{"s":"condition 3","f":144400,"v":569},{"s":"condition 3","f":147700,"v":574},{"s":"condition 3","f":152700,"v":585},{"s":"condition 3","f":158500,"v":592},{"s":"condition 3","f":160700,"v":580},{"s":"condition 3","f":164300,"v":592},{"s":"condition 3","f":167700,"v":602},{"s":"condition 3","f":171500,"v":614},{"s":"condition 3","f":174700,"v":600},{"s":"condition 3","f":178500,"v":604},{"s":"condition 3","f":182600,"v":624},{"s":"condition 3","f":185100,"v":577},{"s":"condition 3","f":187600,"v":610},{"s":"condition 3","f":189300,"v":620},{"s":"condition 3","f":190900,"v":612},{"s":"condition 3","f":194300,"v":572},{"s":"condition 3","f":197300,"v":577},{"s":"condition 3","f":199300,"v":532},{"s":"condition 3","f":201800,"v":552},{"s":"condition 3","f":204300,"v":542},{"s":"condition 3","f":208400,"v":544},{"s":"condition 3","f":212600,"v":532},{"s":"condition 3","f":219200,"v":550},{"s":"condition 3","f":222500,"v":555},{"s":"condition 3","f":231700,"v":559},{"s":"condition 3","f":235800,"v":569},{"s":"condition 3","f":240000,"v":564},{"s":"condition 3","f":244200,"v":574},{"s":"condition 3","f":250800,"v":582},{"s":"condition 3","f":253300,"v":577},{"s":"condition 3","f":259100,"v":587},{"s":"condition 3","f":267400,"v":600},{"s":"condition 3","f":275700,"v":607},{"s":"condition 3","f":284000,"v":616},{"s":"condition 3","f":289000,"v":624},{"s":"condition 3","f":297400,"v":627},{"s":"condition 3","f":304000,"v":639},{"s":"condition 3","f":307300,"v":639},{"s":"condition 3","f":310700,"v":632},{"s":"condition 3","f":314000,"v":637},{"s":"condition 3","f":321500,"v":622},{"s":"condition 3","f":330600,"v":629},{"s":"condition 3","f":335600,"v":639},{"s":"condition 3","f":342300,"v":649},{"s":"condition 3","f":346400,"v":659},{"s":"condition 3","f":349700,"v":645},{"s":"condition 3","f":353900,"v":642},{"s":"condition 3","f":362200,"v":652},{"s":"condition 3","f":365500,"v":652},{"s":"condition 3","f":373800,"v":632},{"s":"condition 3","f":378800,"v":635},{"s":"condition 3","f":386300,"v":644},{"s":"condition 3","f":390500,"v":642},{"s":"condition 3","f":395500,"v":650},{"s":"condition 3","f":403000,"v":664},{"s":"condition 3","f":407900,"v":664},{"s":"condition 3","f":416300,"v":672},{"s":"condition 3","f":421200,"v":654},{"s":"condition 3","f":425400,"v":659},{"s":"condition 3","f":430400,"v":675},{"s":"condition 3","f":435400,"v":677},{"s":"condition 3","f":439500,"v":686},{"s":"condition 3","f":448700,"v":687},{"s":"condition 3","f":453700,"v":682},{"s":"condition 3","f":458700,"v":692},{"s":"condition 3","f":463700,"v":696},{"s":"condition 3","f":472800,"v":695},{"s":"condition 3","f":478600,"v":704},{"s":"condition 3","f":486900,"v":712},{"s":"condition 3","f":495200,"v":722},{"s":"condition 3","f":500000,"v":725},
      {"s":"condition 4","f":0,"v":164},{"s":"condition 4","f":67900,"v":215},{"s":"condition 4","f":92800,"v":236},{"s":"condition 4","f":98700,"v":246},{"s":"condition 4","f":101100,"v":234},{"s":"condition 4","f":103600,"v":240},{"s":"condition 4","f":105300,"v":236},{"s":"condition 4","f":108600,"v":242},{"s":"condition 4","f":112800,"v":247},{"s":"condition 4","f":116100,"v":244},{"s":"condition 4","f":121100,"v":255},{"s":"condition 4","f":126100,"v":260},{"s":"condition 4","f":130300,"v":262},{"s":"condition 4","f":132700,"v":259},{"s":"condition 4","f":137700,"v":264},{"s":"condition 4","f":142700,"v":272},{"s":"condition 4","f":147700,"v":280},{"s":"condition 4","f":153500,"v":292},{"s":"condition 4","f":156900,"v":295},{"s":"condition 4","f":159400,"v":285},{"s":"condition 4","f":164300,"v":294},{"s":"condition 4","f":168500,"v":310},{"s":"condition 4","f":171800,"v":319},{"s":"condition 4","f":173500,"v":304},{"s":"condition 4","f":177600,"v":312},{"s":"condition 4","f":181000,"v":332},{"s":"condition 4","f":183900,"v":295},{"s":"condition 4","f":186800,"v":332},{"s":"condition 4","f":188900,"v":335},{"s":"condition 4","f":191400,"v":297},{"s":"condition 4","f":193400,"v":277},{"s":"condition 4","f":195900,"v":292},{"s":"condition 4","f":197600,"v":287},{"s":"condition 4","f":199300,"v":244},{"s":"condition 4","f":201800,"v":249},{"s":"condition 4","f":205100,"v":242},{"s":"condition 4","f":208400,"v":245},{"s":"condition 4","f":213400,"v":230},{"s":"condition 4","f":217600,"v":247},{"s":"condition 4","f":222500,"v":262},{"s":"condition 4","f":230000,"v":262},{"s":"condition 4","f":234200,"v":274},{"s":"condition 4","f":237500,"v":264},{"s":"condition 4","f":244200,"v":277},{"s":"condition 4","f":252500,"v":282},{"s":"condition 4","f":257400,"v":290},{"s":"condition 4","f":262400,"v":297},{"s":"condition 4","f":267400,"v":302},{"s":"condition 4","f":270700,"v":309},{"s":"condition 4","f":279100,"v":317},{"s":"condition 4","f":284000,"v":322},{"s":"condition 4","f":289000,"v":329},{"s":"condition 4","f":297400,"v":330},{"s":"condition 4","f":300700,"v":342},{"s":"condition 4","f":304000,"v":347},{"s":"condition 4","f":308200,"v":340},{"s":"condition 4","f":313200,"v":342},{"s":"condition 4","f":317300,"v":327},{"s":"condition 4","f":323100,"v":327},{"s":"condition 4","f":331400,"v":334},{"s":"condition 4","f":337300,"v":347},{"s":"condition 4","f":343100,"v":355},{"s":"condition 4","f":346400,"v":355},{"s":"condition 4","f":350600,"v":349},{"s":"condition 4","f":358100,"v":349},{"s":"condition 4","f":362200,"v":357},{"s":"condition 4","f":366400,"v":352},{"s":"condition 4","f":370500,"v":340},{"s":"condition 4","f":374700,"v":337},{"s":"condition 4","f":380500,"v":340},{"s":"condition 4","f":386300,"v":344},{"s":"condition 4","f":390500,"v":344},{"s":"condition 4","f":395500,"v":354},{"s":"condition 4","f":403000,"v":367},{"s":"condition 4","f":407900,"v":370},{"s":"condition 4","f":412100,"v":370},{"s":"condition 4","f":416300,"v":382},{"s":"condition 4","f":421200,"v":360},{"s":"condition 4","f":425400,"v":367},{"s":"condition 4","f":430400,"v":382},{"s":"condition 4","f":439500,"v":389},{"s":"condition 4","f":444500,"v":386},{"s":"condition 4","f":448700,"v":394},{"s":"condition 4","f":453700,"v":382},{"s":"condition 4","f":458700,"v":397},{"s":"condition 4","f":468600,"v":399},{"s":"condition 4","f":478600,"v":412},{"s":"condition 4","f":486900,"v":422},{"s":"condition 4","f":495200,"v":427},{"s":"condition 4","f":500000,"v":430}
    ]
  },
  "spacing": 205,
  "bounds": "flush",
  "resolve": {
    "scale": {"x": "independent", "y": "independent", "color": "independent"},
    "legend": {"color": "independent"}
  },
  "hconcat": [
    {
      "data": {"name": "G"},
      "width": 1534,
      "height": 1132,
      "title": {"text": "(a)", "dx": -41},
      "mark": {"type": "line", "strokeWidth": 4.5, "strokeJoin": "round"},
      "encoding": {
        "x": {
          "field": "f", "type": "quantitative",
          "scale": {"domain": [0, 500000], "nice": false},
          "axis": {
            "title": "Frequency(Hz)", "titleFontSize": 58,
            "values": [0, 100000, 200000, 300000, 400000, 500000],
            "labelExpr": "replace(format(datum.value, ','), ',', ', ')",
            "grid": false, "tickSize": -22, "tickWidth": 3.5, "tickColor": "#000",
            "domainColor": "#000", "domainWidth": 4,
            "labelFont": "Liberation Serif", "labelFontSize": 44, "labelColor": "#000",
            "labelPadding": 88, "labelBaseline": "alphabetic", "labelFlush": false, "labelOverlap": false, "labelBound": false,
            "titleFont": "Liberation Serif", "titleFontWeight": "normal", "titleColor": "#000",
            "titleBaseline": "alphabetic", "titleY": 145
          }
        },
        "y": {
          "field": "v", "type": "quantitative",
          "scale": {"domain": [0, 1775], "nice": false},
          "axis": {
            "title": "Conductance（S）",
            "ticks": false, "labels": false, "grid": false,
            "domainColor": "#000", "domainWidth": 4,
            "titleFont": "Liberation Serif", "titleFontSize": 58, "titleFontWeight": "normal", "titleColor": "#000",
            "titleAngle": -90, "titleBaseline": "alphabetic", "titleAlign": "center",
            "titleX": -68, "titleY": 615
          }
        },
        "color": {
          "field": "s", "type": "nominal",
          "scale": {
            "domain": ["condition 4", "condition 3", "condition 2", "condition 1", "Initial condition"],
            "range": ["#404040", "#ff3b3b", "#0a6ee6", "#00a862", "#c27ae8"]
          },
          "legend": {"title": null, "orient": "none", "direction": "vertical", "legendX": 1092, "legendY": -106, "symbolSize": 9604}
        }
      }
    },
    {
      "data": {"name": "B"},
      "width": 1534,
      "height": 1132,
      "title": {"text": "(b)", "dx": -58},
      "mark": {"type": "line", "strokeWidth": 4.5, "strokeJoin": "round"},
      "encoding": {
        "x": {
          "field": "f", "type": "quantitative",
          "scale": {"domain": [0, 500000], "nice": false},
          "axis": {
            "title": "Frequency(Hz)", "titleFontSize": 57,
            "values": [0, 100000, 200000, 300000, 400000, 500000],
            "labelExpr": "replace(format(datum.value, ','), ',', ', ')",
            "grid": false, "tickSize": -22, "tickWidth": 3.5, "tickColor": "#000",
            "domainColor": "#000", "domainWidth": 4,
            "labelFont": "Liberation Serif", "labelFontSize": 44, "labelColor": "#000",
            "labelPadding": 88, "labelBaseline": "alphabetic", "labelFlush": false, "labelOverlap": false, "labelBound": false,
            "titleFont": "Liberation Serif", "titleFontWeight": "normal", "titleColor": "#000",
            "titleBaseline": "alphabetic", "titleY": 145
          }
        },
        "y": {
          "field": "v", "type": "quantitative",
          "scale": {"domain": [0, 1775], "nice": false},
          "axis": {
            "title": "Susceptance（S）",
            "ticks": false, "labels": false, "grid": false,
            "domainColor": "#000", "domainWidth": 4,
            "titleFont": "Liberation Serif", "titleFontSize": 58, "titleFontWeight": "normal", "titleColor": "#000",
            "titleAngle": -90, "titleBaseline": "alphabetic", "titleAlign": "center",
            "titleX": -55, "titleY": 615
          }
        },
        "color": {
          "field": "s", "type": "nominal",
          "scale": {
            "domain": ["condition 4", "condition 3", "condition 2", "condition 1", "Initial condition"],
            "range": ["#404040", "#ff3b3b", "#0a6ee6", "#00a862", "#c27ae8"]
          },
          "legend": {"title": null, "orient": "none", "direction": "vertical", "legendX": 78, "legendY": -94, "symbolSize": 7744}
        }
      }
    }
  ],
  "config": {
    "view": {"stroke": null},
    "legend": {
      "symbolType": "stroke", "symbolStrokeWidth": 4.5, "clipHeight": 50, "rowPadding": 4,
      "labelFont": "Liberation Serif", "labelFontSize": 42, "labelColor": "#000",
      "labelOffset": 10, "padding": 0, "labelLimit": 0
    },
    "title": {
      "orient": "bottom", "font": "Liberation Serif", "fontSize": 88, "fontWeight": "normal",
      "color": "#000", "anchor": "middle", "frame": "group", "baseline": "alphabetic", "offset": 20
    }
  }
}
